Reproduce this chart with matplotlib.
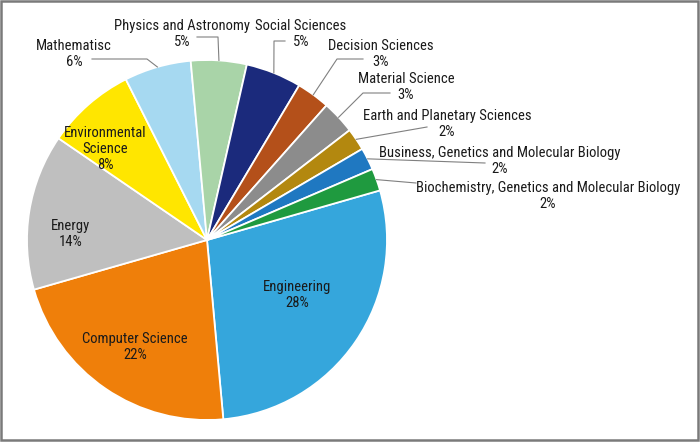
import numpy as np
import matplotlib
matplotlib.use("Agg")
import matplotlib.pyplot as plt
from matplotlib.patches import Rectangle
from matplotlib import font_manager

# pick a narrow face if one is installed
names = {f.name for f in font_manager.fontManager.ttflist}
narrow = [n for n in ["Liberation Sans Narrow", "Roboto Condensed", "DejaVu Sans Condensed"]
          if n in names]
plt.rcParams['font.family'] = narrow + ['DejaVu Sans']

# data, clockwise from Engineering
categories = ["Engineering", "Computer Science", "Energy", "Environmental\nScience",
              "Mathematisc", "Physics and Astronomy", "Social Sciences", "Decision Sciences",
              "Material Science", "Earth and Planetary Sciences",
              "Business, Genetics and Molecular Biology",
              "Biochemistry, Genetics and Molecular Biology"]
shares = [28, 22, 14, 8, 6, 5, 5, 3, 3, 2, 2, 2]
colors = ["#35a6dc", "#ef7f0a", "#bfbfbf", "#ffe600", "#a6d9f1", "#a9d4a8",
          "#1b2a7c", "#b4501a", "#8c8c8c", "#b3880f", "#1f78c1", "#1f9a3f"]

# layout in pixels (figure 700x442): pie centre and radius
CX, CY, R = 207, 240, 180
W, H = 700, 442


def to(px, py):
    return ((px - CX) / R, (CY - py) / R)


# label text centres (pixels); inside labels have no leader
label_pos = {
    "Engineering": (297, 295),
    "Computer Science": (135, 347),
    "Energy": (71, 234),
    "Environmental\nScience": (105, 149),
    "Mathematisc": (74, 54),
    "Physics and Astronomy": (182, 34),
    "Social Sciences": (301, 34),
    "Decision Sciences": (381, 54),
    "Material Science": (406, 87),
    "Earth and Planetary Sciences": (447, 124),
    "Business, Genetics and Molecular Biology": (500, 161),
    "Biochemistry, Genetics and Molecular Biology": (548, 196),
}
# leader lines: start point near text, optional elbow (pixels)
leaders = {
    "Mathematisc": [(92, 59), (147, 59)],
    "Physics and Astronomy": [(197, 37), (218, 37)],
    "Social Sciences": [(285, 41), (274, 41)],
    "Decision Sciences": [(363, 59), (337, 59)],
    "Material Science": [(390, 93), (363, 93)],
    "Earth and Planetary Sciences": [(427, 127)],
    "Business, Genetics and Molecular Biology": [(485, 163)],
    "Biochemistry, Genetics and Molecular Biology": [(416, 183)],
}

fig = plt.figure(figsize=(W / 100, H / 100), dpi=100)
ax = fig.add_axes([0, 0, 1, 1])

wedges, _ = ax.pie(shares, colors=colors, startangle=16, counterclock=False,
                   radius=1, center=(0, 0), frame=True,
                   wedgeprops=dict(edgecolor="white", linewidth=1.3))
ax.set_xlim(-CX / R, (W - CX) / R)
ax.set_ylim(-(H - CY) / R, CY / R)
ax.set_aspect("auto")
ax.axis("off")

for cat, val, w in zip(categories, shares, wedges):
    x, y = to(*label_pos[cat])
    ax.text(x, y, f"{cat}\n{val}%", ha="center", va="center", fontsize=10.5,
            fontstretch="condensed", color="#1a1a1a", linespacing=1.15)
    if cat in leaders:
        mid = np.deg2rad((w.theta1 + w.theta2) / 2)
        pts = [to(*p) for p in leaders[cat]] + [(np.cos(mid), np.sin(mid))]
        xs, ys = zip(*pts)
        ax.plot(xs, ys, color="#808080", lw=0.8)

fig.patches.append(Rectangle((0.002, 0.004), 0.995, 0.994, transform=fig.transFigure,
                             fill=False, edgecolor="#7a7a7a", linewidth=1.8))

fig.savefig("out.png", dpi=100)
